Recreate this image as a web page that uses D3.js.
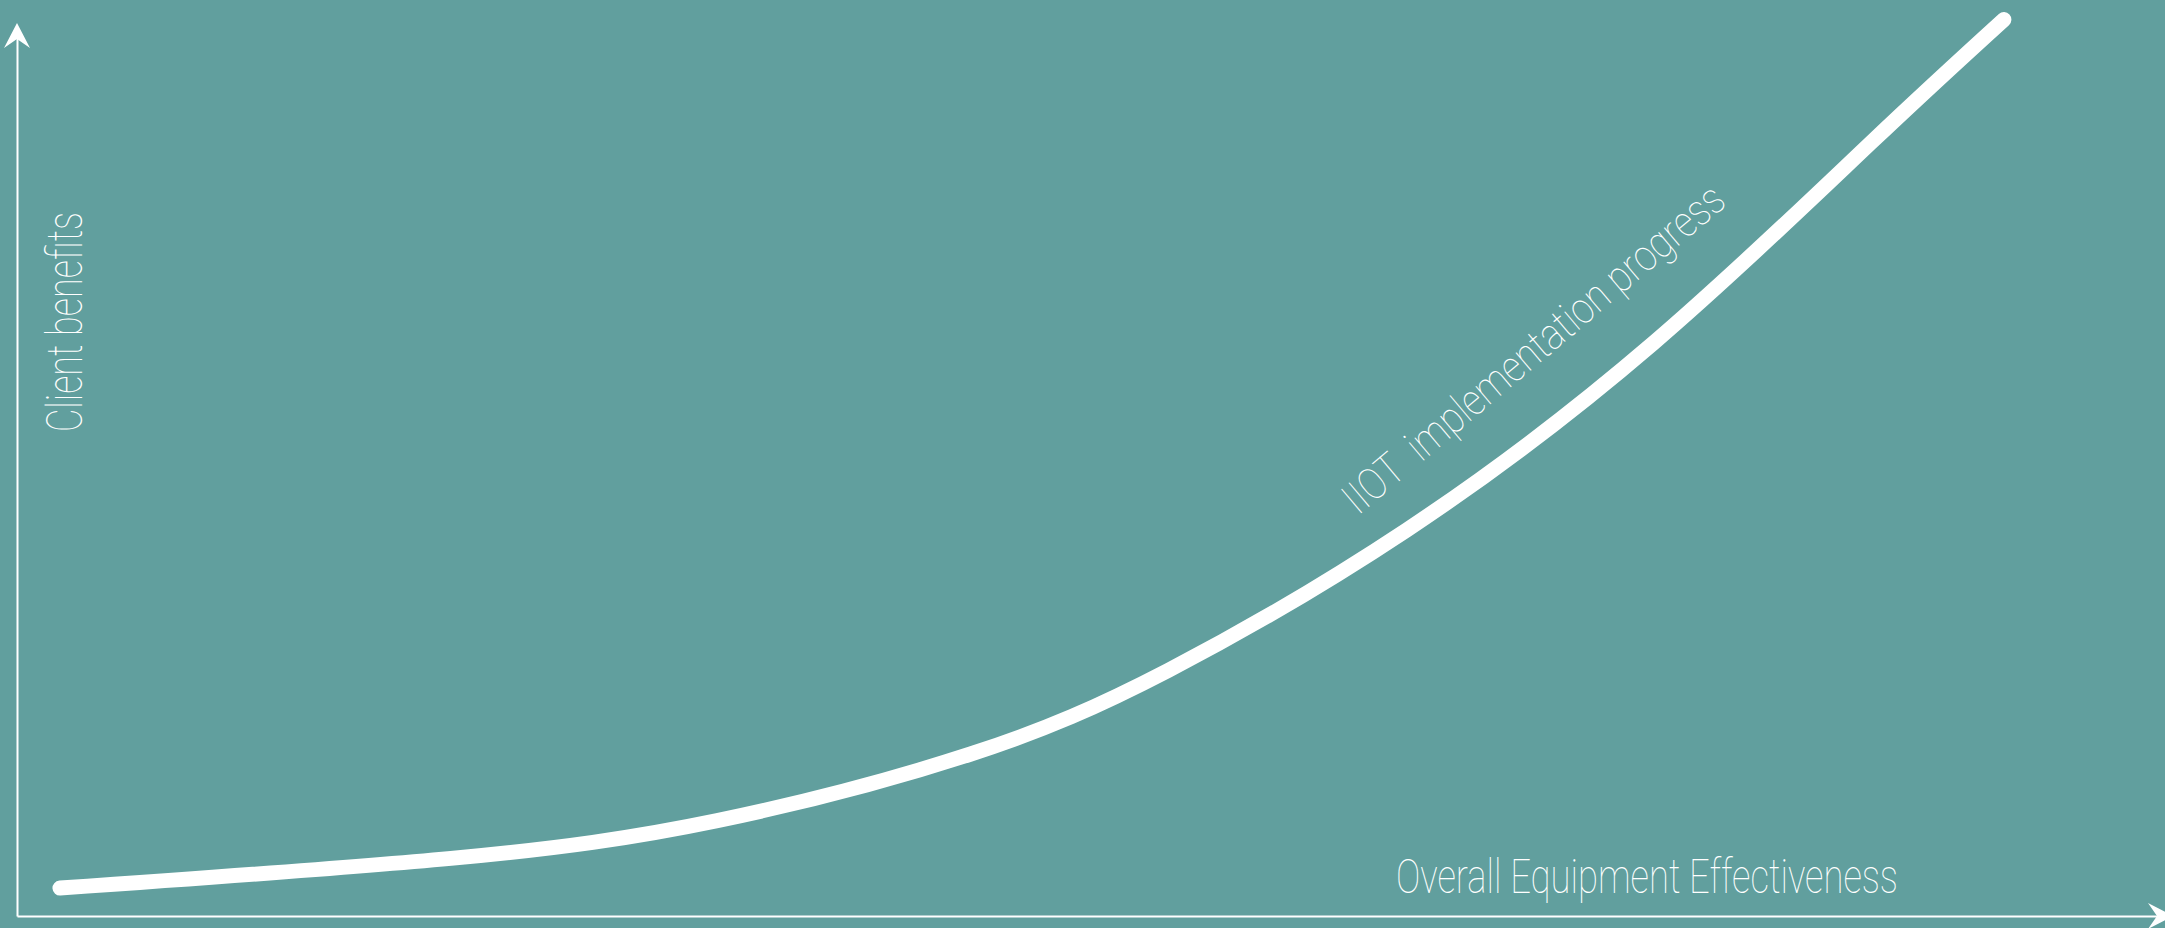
<!DOCTYPE html>
<html>
<head>
<meta charset="utf-8">
<script src="https://cdn.jsdelivr.net/npm/d3@7"></script>
<style>
  html, body { margin: 0; padding: 0; background: #619f9e; overflow: hidden; }
  text { fill: #fff; font-family: "Roboto", "Liberation Sans Narrow", sans-serif; font-weight: 100; }
  .axis path { stroke: #fff; stroke-width: 2; }
</style>
</head>
<body>
<div id="chart"></div>
<script>
// effectiveness (x) vs client benefits (y), both on a 0-100 scale
const effectiveness = [2.0, 20.2, 32.6, 44.4, 53.6, 64.7, 76.2, 86.3, 92.5];
const benefits      = [3.1, 6.4, 10.6, 18.0, 27.3, 42.9, 63.7, 85.9, 99.6];

const xLabel = 'Overall Equipment Effectiveness';
const yLabel = 'Client benefits';
const curveLabel = 'IIOT  implementation progress';

const width = 2165,
      height = 928;

const origin = {x: 17, y: 916};

const svg = d3.select('#chart').append('svg')
  .attr('width', width)
  .attr('height', height);

svg.append('rect')
  .attr('width', width)
  .attr('height', height)
  .attr('fill', '#619f9e');

let x = d3.scaleLinear().domain([0, 100]).range([origin.x, width]);
let y = d3.scaleLinear().domain([0, 100]).range([origin.y, 16]);

// axes, no ticks - just the two white lines
svg.append('g')
  .attr('class', 'axis axis--x')
  .attr('transform', `translate(0, ${origin.y})`)
  .call(d3.axisBottom(x).ticks(0).tickSizeOuter(0));

svg.append('g')
  .attr('class', 'axis axis--y')
  .attr('transform', `translate(${origin.x}, 0)`)
  .call(d3.axisLeft(y.copy().range([origin.y, 30])).ticks(0).tickSizeOuter(0));

// notched arrow heads
const arrow = 'M0,0 L-13,25 L0,16 L13,25 Z';

svg.append('path')
  .attr('d', arrow)
  .attr('fill', '#fff')
  .attr('transform', `translate(${origin.x}, 23)`);

svg.append('path')
  .attr('d', arrow)
  .attr('fill', '#fff')
  .attr('transform', `translate(${width + 8}, ${origin.y}) rotate(90)`);

const points = effectiveness.map((d, i) => [d, benefits[i]]);

const line = d3.line()
  .x(d => x(d[0]))
  .y(d => y(d[1]))
  .curve(d3.curveNatural);

svg.append('path')
  .datum(points)
  .attr('d', line)
  .attr('fill', 'none')
  .attr('stroke', '#fff')
  .attr('stroke-width', 15)
  .attr('stroke-linecap', 'round');

svg.append('text')
  .attr('transform', 'translate(82, 432) rotate(-90)')
  .attr('font-size', 50)
  .attr('textLength', 220)
  .attr('lengthAdjust', 'spacingAndGlyphs')
  .text(yLabel);

svg.append('text')
  .attr('x', 1396)
  .attr('y', 893)
  .attr('font-size', 48)
  .attr('textLength', 502)
  .attr('lengthAdjust', 'spacingAndGlyphs')
  .text(xLabel);

svg.append('text')
  .attr('transform', 'translate(1358, 516) rotate(-40.1)')
  .attr('font-size', 44)
  .attr('textLength', 484)
  .attr('lengthAdjust', 'spacingAndGlyphs')
  .style('white-space', 'pre')
  .text(curveLabel);
</script>
</body>
</html>
